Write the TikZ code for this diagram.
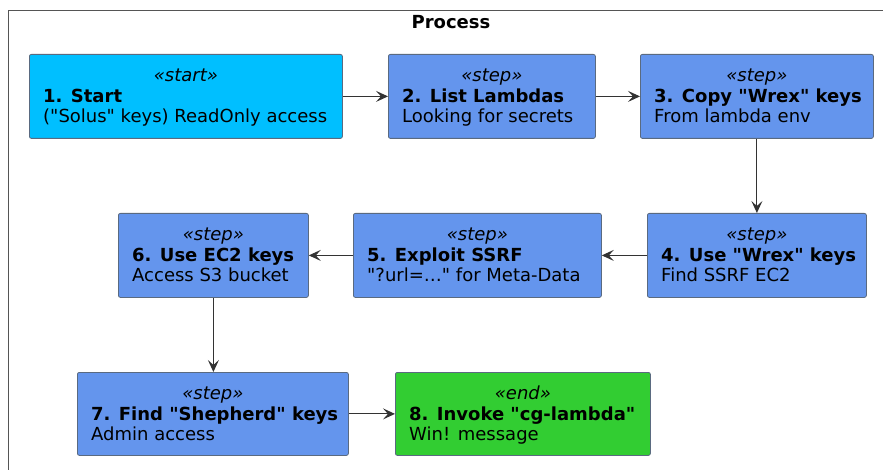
\documentclass[tikz,border=0pt]{standalone}
\usepackage{fontspec}
\newfontfamily\djv{DejaVu Sans}
\usetikzlibrary{arrows.meta}
\definecolor{startc}{HTML}{00BFFF}
\definecolor{stepc}{HTML}{6495ED}
\definecolor{endc}{HTML}{32CD32}
\definecolor{edgec}{HTML}{333333}
\definecolor{borderc}{HTML}{5A6A80}
\definecolor{framec}{HTML}{555555}
\tikzset{
  box/.style={draw=borderc, line width=0.8pt, rounded corners=2pt, inner sep=0pt, anchor=north west},
  txt/.style={inner sep=0pt, font=\djv\fontsize{18}{20}\selectfont},
  stereo/.style={txt, anchor=base, font=\djv\fontsize{18}{20}\selectfont\itshape},
  ttl/.style={txt, anchor=base west, font=\djv\fontsize{18}{20}\selectfont\bfseries},
  desc/.style={txt, anchor=base west},
  flow/.style={draw=edgec, line width=1.1pt, -{Stealth[length=12pt,width=11pt,inset=5pt]}},
}
\newcommand{\mybox}[9]{%
  \pgfmathsetmacro{\bw}{#4-#2}\pgfmathsetmacro{\bh}{#5-#3}%
  \node[box, fill=#6, minimum width=\bw pt, minimum height=\bh pt] (#1) at (#2,#3) {};
  \node[stereo] (#1s) at ([yshift=-27.5pt]#1.north) {«#7»};
  \node[ttl] (#1t) at ([xshift=14pt,yshift=-48.5pt]#1.north west) {#8};
  \node[desc] (#1d) at ([xshift=14pt,yshift=-68.5pt]#1.north west) {#9};
}
\begin{document}
\begin{tikzpicture}[x=1pt,y=-1pt]
\useasboundingbox[fill=white] (0,0) rectangle (883,470);
\draw[framec, line width=1pt] (884,11) -- (8,11) -- (8,471);
\node[ttl, anchor=base] (title) at (451,29) {Process};
\mybox{b1}{29}{54}{342}{138}{startc}{start}{1. Start}{("Solus" keys) ReadOnly access}
\mybox{b2}{388}{54}{595}{138}{stepc}{step}{2. List Lambdas}{Looking for secrets}
\mybox{b3}{640}{54}{873}{138}{stepc}{step}{3. Copy "Wrex" keys}{From lambda env}
\mybox{b4}{647}{213}{866}{297}{stepc}{step}{4. Use "Wrex" keys}{Find SSRF EC2}
\mybox{b5}{353}{213}{601}{297}{stepc}{step}{5. Exploit SSRF}{"?url=…" for Meta-Data}
\mybox{b6}{118}{213}{308}{297}{stepc}{step}{6. Use EC2 keys}{Access S3 bucket}
\mybox{b7}{77}{372}{348}{455}{stepc}{step}{7. Find "Shepherd" keys}{Admin access}
\mybox{b8}{395}{372}{650}{455}{endc}{end}{8. Invoke "cg-lambda"}{Win! message}
\draw[flow] (b1) -- (b2);
\draw[flow] (b2) -- (b3);
\draw[flow] (b3) -- (b4);
\draw[flow] (b4) -- (b5);
\draw[flow] (b5) -- (b6);
\draw[flow] (b6.south) -- (b6.south |- b7.north);
\draw[flow] (b7) -- (b8);
\end{tikzpicture}
\end{document}
